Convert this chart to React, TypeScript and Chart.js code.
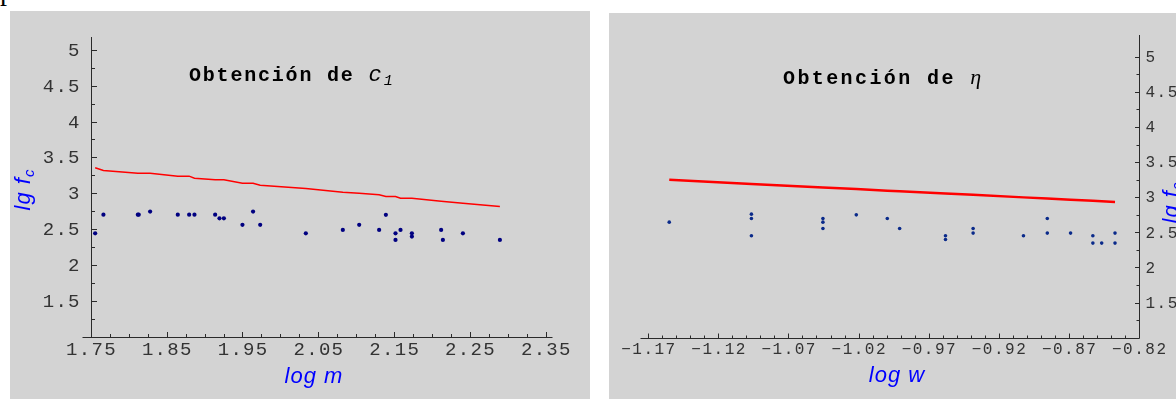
import React, { useEffect, useRef } from 'react';
import { Chart, registerables } from 'chart.js';

Chart.register(...registerables);

// ---------- Left panel: Obtención de c1 (lg fc vs log m) ----------
const massLogM = [1.7557, 1.7666, 1.812, 1.8132, 1.8282, 1.8647, 1.8797, 1.8867, 1.914, 1.9197, 1.9255, 1.95, 1.964, 1.9734, 2.0336, 2.0824, 2.104, 2.1303, 2.1392, 2.1519, 2.1519, 2.1585, 2.1735, 2.1735, 2.2121, 2.2144, 2.2408, 2.2896];
const massLgFc = [2.44, 2.7, 2.7, 2.7, 2.744, 2.7, 2.7, 2.7, 2.7, 2.65, 2.65, 2.558, 2.744, 2.558, 2.44, 2.488, 2.558, 2.488, 2.698, 2.44, 2.348, 2.488, 2.44, 2.394, 2.488, 2.348, 2.44, 2.348];
const massFitLogM = [1.7557, 1.7666, 1.812, 1.8282, 1.8647, 1.8797, 1.8867, 1.914, 1.9255, 1.95, 1.964, 1.9734, 2.0336, 2.0824, 2.104, 2.1303, 2.1392, 2.1519, 2.1585, 2.1735, 2.2121, 2.2408, 2.2896];
const massFitLgFc = [3.355, 3.317, 3.28, 3.28, 3.238, 3.238, 3.21, 3.187, 3.187, 3.14, 3.14, 3.112, 3.065, 3.014, 3.0, 2.977, 2.954, 2.954, 2.93, 2.93, 2.888, 2.86, 2.814];

// ---------- Right panel: Obtención de η (lg fc vs log w) ----------
const widthLogW = [-1.155, -1.0964, -1.0964, -1.0964, -1.0454, -1.0454, -1.0454, -1.0216, -0.9995, -0.9907, -0.958, -0.958, -0.9383, -0.9383, -0.9024, -0.8854, -0.8854, -0.8688, -0.8529, -0.8529, -0.8466, -0.8371, -0.8371];
const widthLgFc = [2.645, 2.759, 2.697, 2.451, 2.697, 2.645, 2.555, 2.749, 2.697, 2.555, 2.451, 2.399, 2.555, 2.489, 2.451, 2.697, 2.489, 2.489, 2.451, 2.347, 2.347, 2.489, 2.347];
const widthFitLogW = [-1.155, -1.0964, -1.0454, -1.0216, -0.9995, -0.9907, -0.958, -0.9383, -0.9024, -0.8854, -0.8688, -0.8529, -0.8466, -0.8371];
const widthFitLgFc = [3.25, 3.19, 3.14, 3.117, 3.094, 3.086, 3.053, 3.034, 2.998, 2.981, 2.965, 2.949, 2.943, 2.933];

// ---------- Ticks ----------
const leftXTicks = [1.75, 1.85, 1.95, 2.05, 2.15, 2.25, 2.35];
const leftXTickLabels = ['1.75', '1.85', '1.95', '2.05', '2.15', '2.25', '2.35'];
const leftXMinor = [1.775, 1.8, 1.825, 1.875, 1.9, 1.925, 1.975, 2.0, 2.025, 2.075, 2.1, 2.125, 2.175, 2.2, 2.225, 2.275, 2.3, 2.325];
const lgFcTicks = [1.5, 2, 2.5, 3, 3.5, 4, 4.5, 5];
const lgFcTickLabels = ['1.5', '2', '2.5', '3', '3.5', '4', '4.5', '5'];
const lgFcMinor = [1.25, 1.75, 2.25, 2.75, 3.25, 3.75, 4.25, 4.75];
const rightXTicks = [-1.17, -1.12, -1.07, -1.02, -0.97, -0.92, -0.87, -0.82];
const rightXTickLabels = ['−1.17', '−1.12', '−1.07', '−1.02', '−0.97', '−0.92', '−0.87', '−0.82'];
const rightXMinor = [-1.16, -1.15, -1.14, -1.13, -1.11, -1.1, -1.09, -1.08, -1.06, -1.05, -1.04, -1.03, -1.01, -1.0, -0.99, -0.98, -0.96, -0.95, -0.94, -0.93, -0.91, -0.9, -0.89, -0.88, -0.86, -0.85, -0.84, -0.83];

type Run = { t: string; font: string; dy?: number; ls?: number };

function drawRuns(ctx: CanvasRenderingContext2D, x: number, y: number, runs: Run[], color: string, align: 'left' | 'center' = 'left') {
  ctx.save();
  ctx.fillStyle = color;
  ctx.textAlign = 'left';
  ctx.textBaseline = 'alphabetic';
  const widths = runs.map((r) => {
    ctx.font = r.font;
    (ctx as any).letterSpacing = (r.ls || 0) + 'px';
    return ctx.measureText(r.t).width;
  });
  const total = widths.reduce((a, b) => a + b, 0);
  let cx = align === 'center' ? x - total / 2 : x;
  runs.forEach((r, i) => {
    ctx.font = r.font;
    (ctx as any).letterSpacing = (r.ls || 0) + 'px';
    ctx.fillText(r.t, cx, y + (r.dy || 0));
    cx += widths[i];
  });
  ctx.restore();
}

type AxesCfg = {
  yAxisAt: number;
  xAxisAt: number;
  xMajor: number[];
  xLabels: string[];
  xMinor: number[];
  yMajor: number[];
  yLabels: string[];
  yMinor: number[];
  ySide: 'left' | 'right';
  tickFont: string;
  tickLs: number;
  xLabelDy: number;
  yLabelGap: number;
  xMajorLen: number;
  xMinorLen: number;
  yMajorLen: number;
  yMinorLen: number;
  extras: (ctx: CanvasRenderingContext2D) => void;
};

function axesPlugin(cfg: AxesCfg) {
  return {
    id: 'mmaAxes',
    beforeDatasetsDraw(chart: any) {
      const { ctx, chartArea } = chart;
      const xs = chart.scales.x;
      const ys = chart.scales.y;
      const ya = Math.round(ys.getPixelForValue(cfg.xAxisAt)) + 0.5;
      const xa = Math.round(xs.getPixelForValue(cfg.yAxisAt)) + 0.5;
      ctx.save();
      ctx.strokeStyle = '#2a2a2a';
      ctx.lineWidth = 1;
      ctx.beginPath();
      ctx.moveTo(chartArea.left, ya);
      ctx.lineTo(chartArea.right, ya);
      ctx.moveTo(xa, chartArea.top);
      ctx.lineTo(xa, ya);
      cfg.xMajor.forEach((v) => {
        const p = Math.round(xs.getPixelForValue(v)) + 0.5;
        ctx.moveTo(p, ya);
        ctx.lineTo(p, ya - cfg.xMajorLen);
      });
      cfg.xMinor.forEach((v) => {
        const p = Math.round(xs.getPixelForValue(v)) + 0.5;
        ctx.moveTo(p, ya);
        ctx.lineTo(p, ya - cfg.xMinorLen);
      });
      const dir = cfg.ySide === 'left' ? 1 : -1;
      cfg.yMajor.forEach((v) => {
        const p = Math.round(ys.getPixelForValue(v)) + 0.5;
        ctx.moveTo(xa, p);
        ctx.lineTo(xa + dir * cfg.yMajorLen, p);
      });
      cfg.yMinor.forEach((v) => {
        const p = Math.round(ys.getPixelForValue(v)) + 0.5;
        ctx.moveTo(xa, p);
        ctx.lineTo(xa + dir * cfg.yMinorLen, p);
      });
      ctx.stroke();

      ctx.fillStyle = '#333';
      ctx.font = cfg.tickFont;
      (ctx as any).letterSpacing = cfg.tickLs + 'px';
      ctx.textAlign = 'center';
      ctx.textBaseline = 'alphabetic';
      cfg.xMajor.forEach((v, i) => {
        ctx.fillText(cfg.xLabels[i], xs.getPixelForValue(v) + cfg.tickLs / 2, ya + cfg.xLabelDy);
      });
      ctx.textBaseline = 'middle';
      if (cfg.ySide === 'left') {
        ctx.textAlign = 'right';
        cfg.yMajor.forEach((v, i) => {
          ctx.fillText(cfg.yLabels[i], xa - cfg.yLabelGap + cfg.tickLs, ys.getPixelForValue(v) + 1);
        });
      } else {
        ctx.textAlign = 'left';
        cfg.yMajor.forEach((v, i) => {
          ctx.fillText(cfg.yLabels[i], xa + cfg.yLabelGap, ys.getPixelForValue(v) + 1);
        });
      }
      ctx.restore();
    },
    afterDraw(chart: any) {
      cfg.extras(chart.ctx);
    },
  };
}

function drawRotated(ctx: CanvasRenderingContext2D, bx: number, cy: number, runs: Run[], color: string) {
  ctx.save();
  ctx.translate(bx, cy);
  ctx.rotate(-Math.PI / 2);
  drawRuns(ctx, 0, 0, runs, color, 'center');
  ctx.restore();
}

const TITLE_FONT = 'bold 20px "Liberation Mono"';
const AXIS_FONT = 'italic 22px "Liberation Sans"';
const BLUE = '#0000ff';

type PanelProps = {
  left: number;
  top: number;
  width: number;
  height: number;
  xMin: number;
  xMax: number;
  yMin: number;
  yMax: number;
  padding: { left: number; right: number; top: number; bottom: number };
  pointsX: number[];
  pointsY: number[];
  fitX: number[];
  fitY: number[];
  fitWidth: number;
  pointRadius: number;
  pointColor: string;
  axes: AxesCfg;
};

function Panel(p: PanelProps) {
  const ref = useRef<HTMLCanvasElement>(null);
  useEffect(() => {
    const chart = new Chart(ref.current as HTMLCanvasElement, {
      type: 'scatter',
      data: {
        datasets: [
          {
            data: p.fitX.map((x, i) => ({ x, y: p.fitY[i] })),
            showLine: true,
            borderColor: '#ff0000',
            borderWidth: p.fitWidth,
            pointRadius: 0,
            fill: false,
          },
          {
            data: p.pointsX.map((x, i) => ({ x, y: p.pointsY[i] })),
            pointRadius: p.pointRadius,
            pointBackgroundColor: p.pointColor,
            pointBorderColor: p.pointColor,
            pointBorderWidth: 0,
            showLine: false,
          },
        ],
      } as any,
      options: {
        responsive: false,
        animation: false,
        devicePixelRatio: 1,
        events: [],
        layout: { padding: p.padding },
        plugins: { legend: { display: false }, tooltip: { enabled: false }, title: { display: false } },
        scales: {
          x: { type: 'linear', min: p.xMin, max: p.xMax, display: false },
          y: { type: 'linear', min: p.yMin, max: p.yMax, display: false },
        },
      } as any,
      plugins: [axesPlugin(p.axes) as any],
    });
    return () => chart.destroy();
  }, []);
  return (
    <canvas
      ref={ref}
      width={p.width}
      height={p.height}
      style={{ position: 'absolute', left: p.left, top: p.top, width: p.width, height: p.height, background: '#d3d3d3' }}
    />
  );
}

export default function App() {
  const leftAxes: AxesCfg = {
    yAxisAt: 1.75,
    xAxisAt: 1.0,
    xMajor: leftXTicks,
    xLabels: leftXTickLabels,
    xMinor: leftXMinor,
    yMajor: lgFcTicks,
    yLabels: lgFcTickLabels,
    yMinor: lgFcMinor,
    ySide: 'left',
    tickFont: '19px "Liberation Mono"',
    tickLs: 1.3,
    xLabelDy: 17.5,
    yLabelGap: 12,
    xMajorLen: 5.5,
    xMinorLen: 3.5,
    yMajorLen: 5.5,
    yMinorLen: 3.5,
    extras: (ctx) => {
      drawRuns(ctx, 179, 70, [
        { t: 'Obtención de ', font: TITLE_FONT, ls: 1.8 },
        { t: 'c', font: 'italic 22px "Liberation Mono"', ls: 2 },
        { t: '1', font: 'italic 15px "Liberation Mono"', dy: 4 },
      ], '#000');
      drawRuns(ctx, 304, 371.5, [{ t: 'log m', font: AXIS_FONT, ls: 1 }], BLUE, 'center');
      drawRotated(ctx, 20, 179, [
        { t: 'lg f', font: AXIS_FONT, ls: 1 },
        { t: 'c', font: 'italic 15px "Liberation Sans"', dy: 4 },
      ], BLUE);
    },
  };

  const rightAxes: AxesCfg = {
    yAxisAt: -0.82,
    xAxisAt: 1.0,
    xMajor: rightXTicks,
    xLabels: rightXTickLabels,
    xMinor: rightXMinor,
    yMajor: lgFcTicks,
    yLabels: lgFcTickLabels,
    yMinor: lgFcMinor,
    ySide: 'right',
    tickFont: '16px "Liberation Mono"',
    tickLs: 1.5,
    xLabelDy: 15.6,
    yLabelGap: 6,
    xMajorLen: 5,
    xMinorLen: 3,
    yMajorLen: 4.5,
    yMinorLen: 3,
    extras: (ctx) => {
      drawRuns(ctx, 174, 71, [
        { t: 'Obtención de ', font: TITLE_FONT, ls: 2.4 },
        { t: 'η', font: 'italic 22px "Liberation Serif"' },
      ], '#000');
      drawRuns(ctx, 288, 369, [{ t: 'log w', font: AXIS_FONT, ls: 1 }], BLUE, 'center');
      drawRotated(ctx, 569, 190, [
        { t: 'lg f', font: AXIS_FONT, ls: 1 },
        { t: 'c', font: 'italic 15px "Liberation Sans"', dy: 4 },
      ], BLUE);
    },
  };

  return (
    <div style={{ position: 'absolute', left: 0, top: 0, width: 1176, height: 399, overflow: 'hidden', background: '#ffffff' }}>
      <div
        style={{
          position: 'absolute',
          left: 0,
          top: -23.5,
          fontFamily: '"Liberation Serif", serif',
          fontSize: 28,
          lineHeight: '28px',
          whiteSpace: 'nowrap',
          color: '#000',
        }}
      >
        piezas de formato normal.
      </div>
      <Panel
        left={10}
        top={11}
        width={580}
        height={388}
        xMin={1.739}
        xMax={2.359}
        yMin={1.0}
        yMax={5.18}
        padding={{ left: 72.5, right: 37.5, top: 26, bottom: 62.5 }}
        pointsX={massLogM}
        pointsY={massLgFc}
        fitX={massFitLogM}
        fitY={massFitLgFc}
        fitWidth={1.5}
        pointRadius={2.1}
        pointColor="#000080"
        axes={leftAxes}
      />
      <Panel
        left={609}
        top={13}
        width={567}
        height={386}
        xMin={-1.1755}
        xMax={-0.82}
        yMin={1.0}
        yMax={5.31}
        padding={{ left: 31.5, right: 37, top: 22, bottom: 61.3 }}
        pointsX={widthLogW}
        pointsY={widthLgFc}
        fitX={widthFitLogW}
        fitY={widthFitLgFc}
        fitWidth={2.5}
        pointRadius={1.8}
        pointColor="#0a2a8a"
        axes={rightAxes}
      />
    </div>
  );
}
